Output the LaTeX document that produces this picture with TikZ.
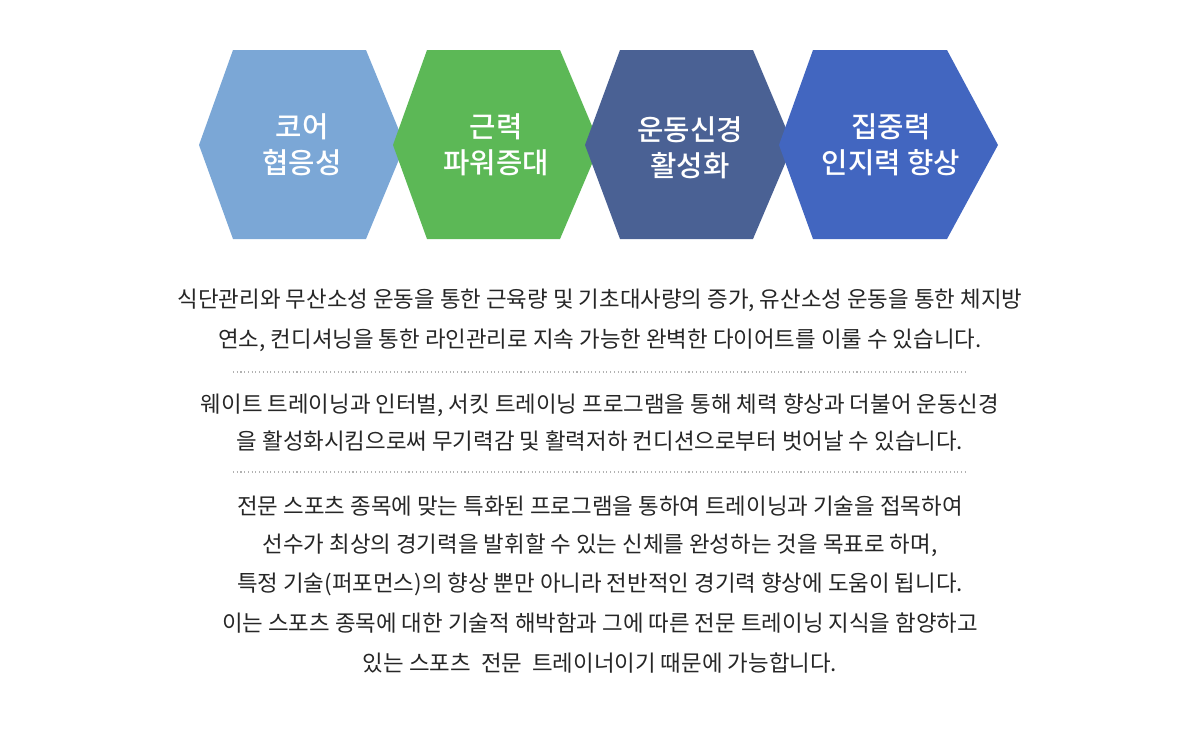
\documentclass[tikz,border=0pt]{standalone}
\usepackage{fontspec}
\setmainfont{Noto Sans CJK KR}
\newfontfamily\krb{Noto Sans CJK KR Medium}
\begin{document}
\begin{tikzpicture}[x=0.75pt,y=-0.75pt,
  hextxt/.style={text=white,font=\krb\fontsize{21.5}{27}\selectfont,align=center},
  body/.style={text=black!85,font=\fontsize{16.8}{20}\selectfont,anchor=center},
  sep/.style={draw=black!30,dotted,line width=0.8pt}]
\useasboundingbox (0,0) rectangle (1200,729);
\fill[fill={rgb,255:red,123;green,167;blue,214}] (199,145) -- (233,50) -- (366,50) -- (405,145) -- (366,239) -- (233,239) -- cycle;
\fill[fill={rgb,255:red,92;green,184;blue,86}] (393,145) -- (427,50) -- (560,50) -- (600,145) -- (560,239) -- (427,239) -- cycle;
\fill[fill={rgb,255:red,74;green,97;blue,148}] (585,145) -- (620,50) -- (753,50) -- (793,145) -- (753,239) -- (620,239) -- cycle;
\fill[fill={rgb,255:red,66;green,102;blue,192}] (779,145) -- (813,50) -- (947,50) -- (998,145) -- (947,239) -- (813,239) -- cycle;
\node[hextxt] (h1) at (302,145) {코어\\협응성};
\node[hextxt] (h2) at (496,145) {근력\\파워증대};
\node[hextxt] (h3) at (690,148) {운동신경\\활성화};
\node[hextxt] (h4) at (891,145) {집중력\\인지력 향상};
\node[body] (t1) at (600,300) {식단관리와 무산소성 운동을 통한 근육량 및 기초대사량의 증가, 유산소성 운동을 통한 체지방};
\node[body] (t2) at (600,340) {연소, 컨디셔닝을 통한 라인관리로 지속 가능한 완벽한 다이어트를 이룰 수 있습니다.};
\draw[sep] (233,372) -- (967,372);
\node[body] (t3) at (600,405) {웨이트 트레이닝과 인터벌, 서킷 트레이닝 프로그램을 통해 체력 향상과 더불어 운동신경};
\node[body] (t4) at (600,441) {을 활성화시킴으로써 무기력감 및 활력저하 컨디션으로부터 벗어날 수 있습니다.};
\draw[sep] (233,472) -- (967,472);
\node[body] (t5) at (600,506) {전문 스포츠 종목에 맞는 특화된 프로그램을 통하여 트레이닝과 기술을 접목하여};
\node[body] (t6) at (600,545) {선수가 최상의 경기력을 발휘할 수 있는 신체를 완성하는 것을 목표로 하며,};
\node[body] (t7) at (600,584) {특정 기술(퍼포먼스)의 향상 뿐만 아니라 전반적인 경기력 향상에 도움이 됩니다.};
\node[body] (t8) at (600,623) {이는 스포츠 종목에 대한 기술적 해박함과 그에 따른 전문 트레이닝 지식을 함양하고};
\node[body] (t9) at (600,663) {있는 스포츠 \ 전문 \ 트레이너이기 때문에 가능합니다.};
\end{tikzpicture}
\end{document}
